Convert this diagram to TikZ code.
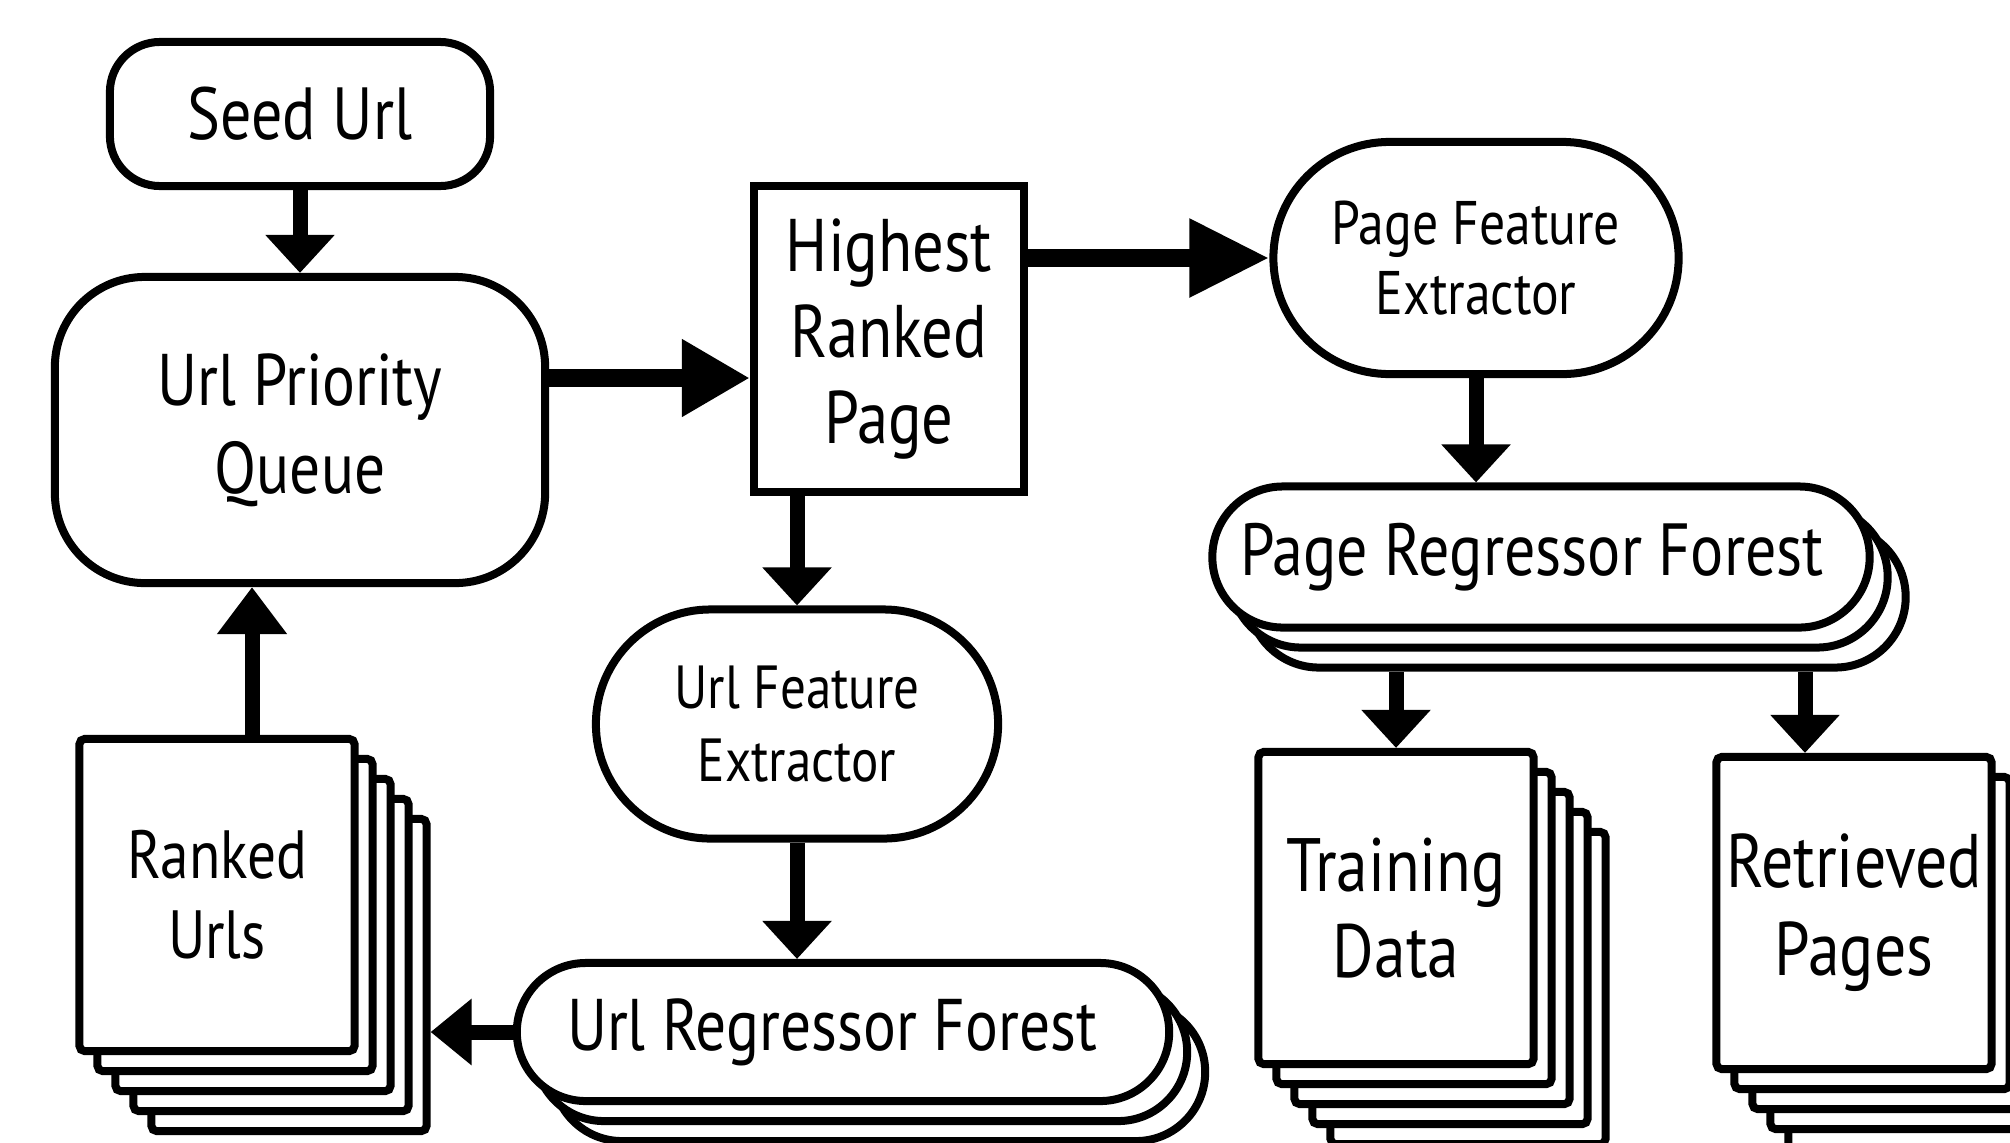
\documentclass[tikz,border=0pt]{standalone}
\usepackage{fontspec}
\usepackage{tikz}
\usetikzlibrary{arrows.meta,shapes.misc}
\newfontfamily\lblfont[FakeStretch=0.84]{PT Sans}

\begin{document}
\begin{tikzpicture}[x=0.01cm, y=-0.01cm, line width=0.08cm, align=center,
    every node/.style={draw, fill=white, inner sep=0pt},
    pill/.style={rounded rectangle},
    doc/.style={rectangle, rounded corners=1.5pt, minimum width=2.75cm, minimum height=3.12cm},
    arr/.style={line width=0.15cm, -{Triangle[width=0.67cm,length=0.38cm]}},
    bigarr/.style={line width=0.18cm, -{Triangle[width=0.73cm,length=0.68cm]}}]
  \useasboundingbox (0,0) rectangle (2010,1142);

  % left column
  \node[rounded corners=0.5cm, minimum width=3.8cm, minimum height=1.44cm,
        font=\lblfont\fontsize{21}{25}\selectfont] at (300, 114) (seed) {Seed Url};
  \node[rounded corners=0.9cm, minimum width=4.9cm, minimum height=3.06cm,
        font=\lblfont\fontsize{20.8}{25}\selectfont] at (300, 430) (queue) {Url Priority\\Queue};
  \node[doc] at (289, 975) (ru4) {};
  \node[doc] at (271, 955) (ru3) {};
  \node[doc] at (253, 935) (ru2) {};
  \node[doc] at (235, 915) (ru1) {};
  \node[doc, font=\lblfont\fontsize{19.4}{22.8}\selectfont] at (217, 895) (ru) {Ranked\\Urls};

  % middle column
  \node[minimum width=2.7cm, minimum height=3.06cm,
        font=\lblfont\fontsize{21.2}{24.5}\selectfont] at (889, 339) (high) {Highest\\Ranked\\Page};
  \node[pill, minimum width=4.02cm, minimum height=2.29cm,
        font=\lblfont\fontsize{17.3}{20.8}\selectfont] at (797, 724) (ufe) {Url Feature\\Extractor};
  \node[pill, minimum width=6.52cm, minimum height=1.38cm] at (879, 1072) (urf2) {};
  \node[pill, minimum width=6.52cm, minimum height=1.38cm] at (861, 1052) (urf1) {};
  \node[pill, minimum width=6.52cm, minimum height=1.38cm,
        font=\lblfont\fontsize{20.8}{25}\selectfont] at (843, 1032) (urf) {Url Regressor Forest\hspace{0.22cm}};

  % right column
  \node[pill, minimum width=4.05cm, minimum height=2.32cm,
        font=\lblfont\fontsize{17.5}{20}\selectfont] at (1476, 258) (pfe) {Page Feature\\Extractor};
  \node[pill, minimum width=6.57cm, minimum height=1.41cm] at (1577, 597) (prf2) {};
  \node[pill, minimum width=6.57cm, minimum height=1.41cm] at (1559, 577) (prf1) {};
  \node[pill, minimum width=6.57cm, minimum height=1.41cm,
        font=\lblfont\fontsize{21}{26}\selectfont] at (1541, 557) (prf) {Page Regressor Forest\hspace{0.18cm}};
  \node[doc] at (1468, 988) (td4) {};
  \node[doc] at (1450, 968) (td3) {};
  \node[doc] at (1432, 948) (td2) {};
  \node[doc] at (1414, 928) (td1) {};
  \node[doc, font=\lblfont\fontsize{21.5}{24.5}\selectfont] at (1396, 908) (td) {Training\\Data};
  \node[doc] at (1926, 993) (rp4) {};
  \node[doc] at (1908, 973) (rp3) {};
  \node[doc] at (1890, 953) (rp2) {};
  \node[doc] at (1872, 933) (rp1) {};
  \node[doc, font=\lblfont\fontsize{21.6}{25}\selectfont] at (1854, 913) (rp) {Retrieved\\Pages};

  \draw[arr] (seed) -- (queue);
  \draw[bigarr] (queue.east |- 0, 378) -- (high.west |- 0, 378);
  \draw[bigarr, -{Triangle[width=0.74cm,length=0.8cm]}] (high.east |- pfe.west) -- (pfe.west);
  \draw[arr] (ufe.north |- high.south) -- (ufe.north);
  \draw[arr] (ufe.south) -- (ufe.south |- urf.north);
  \draw[arr, -{Triangle[width=0.64cm,length=0.41cm]}] (urf.west) -- (ru4.east |- urf.west);
  \draw[arr, -{Triangle[width=0.67cm,length=0.47cm]}] ([xshift=0.35cm]ru.north) -- ([xshift=0.35cm]ru.north |- queue.south);
  \draw[arr] (pfe.south) -- (pfe.south |- prf.north);
  \draw[arr] (td.north |- prf2.south) -- (td.north);
  \draw[arr] ([xshift=-0.49cm]rp.north |- prf2.south) -- ([xshift=-0.49cm]rp.north);
\end{tikzpicture}
\end{document}
